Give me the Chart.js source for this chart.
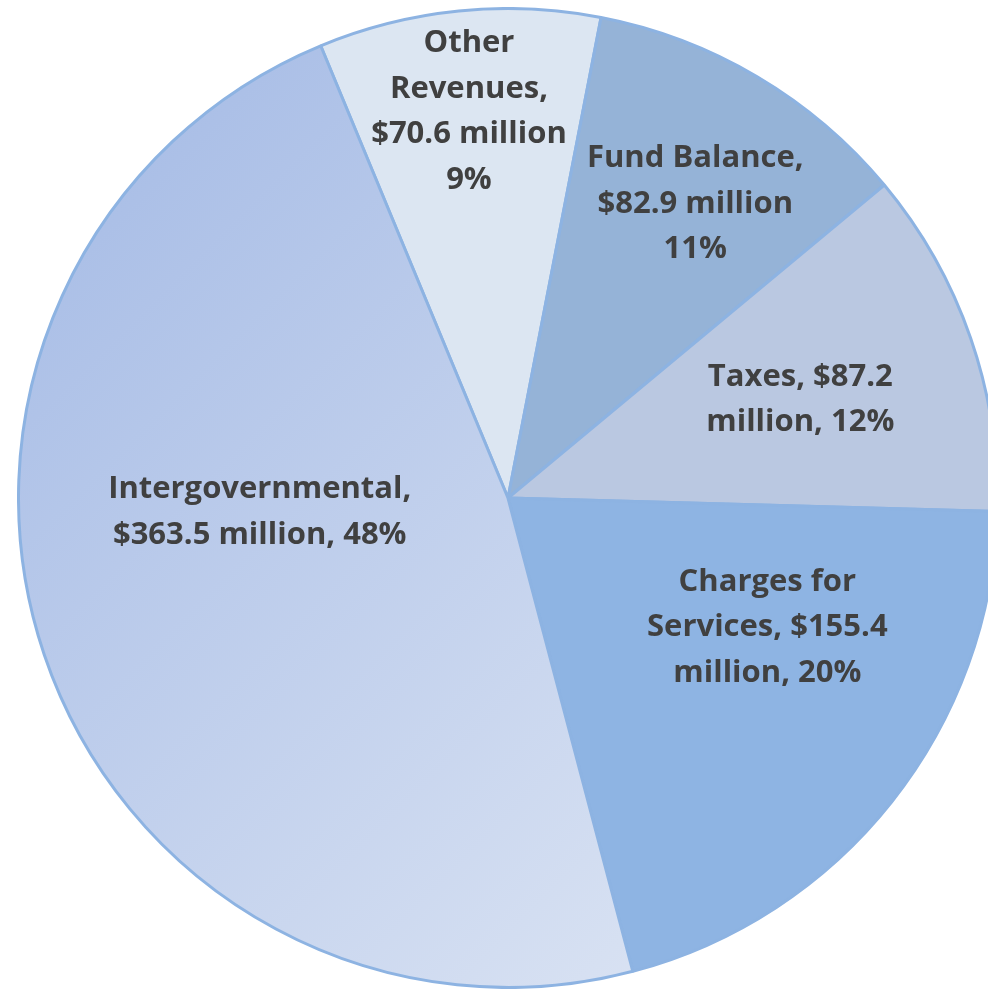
<!DOCTYPE html>
<html>
<head>
<meta charset="utf-8">
<title>Revenue Sources</title>
<script src="https://cdn.jsdelivr.net/npm/chart.js@4.4.1/dist/chart.umd.min.js"></script>
<style>
  html, body { margin: 0; padding: 0; background: #ffffff; overflow: hidden; width: 988px; height: 990px; }
  #wrap { position: absolute; left: 17px; top: 7px; width: 982px; height: 982px; }
</style>
</head>
<body>
<div id="wrap"><canvas id="chart"></canvas></div>
<script>
// Revenue sources, in millions of dollars
const categories = ['Other Revenues', 'Fund Balance', 'Taxes', 'Charges for Services', 'Intergovernmental'];
const values = [70.6, 82.9, 87.2, 155.4, 363.5];
const percents = [9, 11, 12, 20, 48];

const sliceColors = ['#dce6f2', '#95b3d7', '#bac8e1', '#8eb4e3', null];
const gradientStops = ['#a8bde6', '#dee6f4'];

// Where each label sits: fraction of the radius, angular shift (deg) from the slice middle,
// and the width used to wrap its words.
const labelAnchors = [
  { radius: 0.793, shift: 0.0,   width: 225 },
  { radius: 0.712, shift: 1.9,   width: 240 },
  { radius: 0.630, shift: 0.5,   width: 215 },
  { radius: 0.592, shift: -11.9, width: 265 },
  { radius: 0.508, shift: 15.4,  width: 325 }
];

function labelWords(i) {
  return `${categories[i]}, $${values[i].toFixed(1)} million, ${percents[i]}%`.split(' ');
}

// Greedy word wrap; a "million," ending a line drops its comma.
function wrapWords(ctx, words, maxWidth) {
  const lines = [];
  let cur = '';
  words.forEach(w => {
    const test = cur ? cur + ' ' + w : w;
    if (cur && ctx.measureText(test).width > maxWidth) {
      lines.push(cur);
      cur = w;
    } else {
      cur = test;
    }
  });
  if (cur) lines.push(cur);
  return lines.map(l => l.endsWith('million,') ? l.slice(0, -1) : l);
}

const sliceLabels = {
  id: 'sliceLabels',
  afterDatasetsDraw(chart, args, opts) {
    const ctx = chart.ctx;
    const meta = chart.getDatasetMeta(0);
    ctx.save();
    ctx.font = opts.font;
    ctx.fillStyle = opts.color;
    ctx.textAlign = 'center';
    ctx.textBaseline = 'middle';
    meta.data.forEach((arc, i) => {
      const p = arc.getProps(['x', 'y', 'startAngle', 'endAngle', 'outerRadius'], true);
      const a = labelAnchors[i];
      const ang = (p.startAngle + p.endAngle) / 2 + a.shift * Math.PI / 180;
      const r = p.outerRadius * a.radius;
      const cx = p.x + r * Math.cos(ang);
      const cy = p.y + r * Math.sin(ang);
      const lines = wrapWords(ctx, labelWords(i), a.width);
      lines.forEach((ln, k) => {
        ctx.fillText(ln, cx, cy + (k - (lines.length - 1) / 2) * opts.lineHeight);
      });
    });
    ctx.restore();
  }
};

function sliceFill(context) {
  const i = context.dataIndex;
  if (sliceColors[i]) return sliceColors[i];
  const area = context.chart.chartArea;
  if (!area) return gradientStops[0];
  const g = context.chart.ctx.createLinearGradient(area.left, area.top, area.right, area.bottom);
  g.addColorStop(0.1, gradientStops[0]);
  g.addColorStop(0.9, gradientStops[1]);
  return g;
}

new Chart(document.getElementById('chart'), {
  type: 'pie',
  data: {
    labels: categories,
    datasets: [{
      data: values,
      backgroundColor: sliceFill,
      borderColor: '#8db3e2',
      borderWidth: 3,
      hoverOffset: 0,
      hoverBorderWidth: 3
    }]
  },
  plugins: [sliceLabels],
  options: {
    responsive: true,
    maintainAspectRatio: false,
    animation: false,
    events: [],
    rotation: -22.5,
    layout: { padding: 0 },
    plugins: {
      legend: { display: false },
      tooltip: { enabled: false },
      sliceLabels: {
        font: 'bold 31px "Open Sans"',
        color: '#404040',
        lineHeight: 45.5
      }
    }
  }
});
</script>
</body>
</html>
